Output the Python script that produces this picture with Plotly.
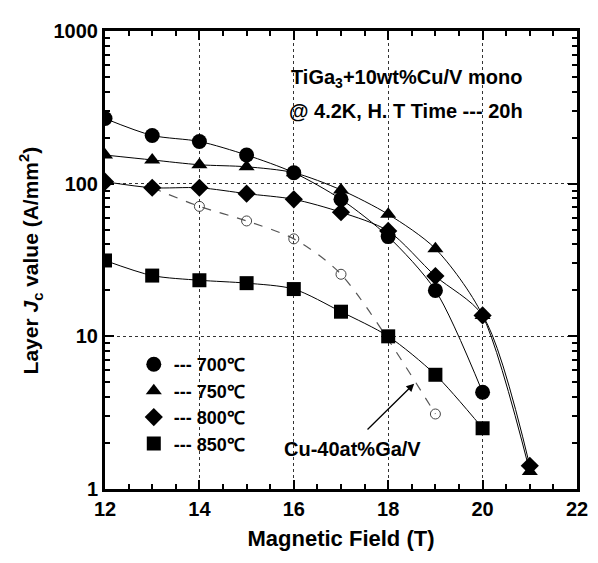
import plotly.graph_objects as go

field = [12, 13, 14, 15, 16, 17, 18, 19, 20]
field_ext = [12, 13, 14, 15, 16, 17, 18, 19, 20, 21]
jc_700 = [267, 207, 189, 154, 118, 79, 45, 20, 4.3]
jc_750 = [154, 143, 133, 129, 118, 91, 63, 37.5, 13.7, 1.3]
jc_800 = [103, 94, 94, 86, 79, 65, 49, 24.8, 13.7, 1.42]
jc_850 = [31.4, 25, 23.3, 22.3, 20.4, 14.5, 10, 5.6, 2.5]
cu_field = [13, 14, 15, 16, 17, 19]
cu_jc = [94, 71, 57, 43.5, 25.5, 3.1]

series = [
    ("700℃", field, jc_700, "circle", 15),
    ("750℃", field_ext, jc_750, "triangle-up", 14),
    ("800℃", field_ext, jc_800, "diamond", 14),
    ("850℃", field, jc_850, "square", 14),
]

FONT = "Liberation Sans, Arial, sans-serif"
fig = go.Figure()
for name, xs, ys, sym, sz in series:
    fig.add_trace(go.Scatter(x=xs, y=ys, mode="lines", line=dict(color="black", width=1, shape="spline", smoothing=0.8),
                             showlegend=False, hoverinfo="skip"))
fig.add_trace(go.Scatter(x=cu_field, y=cu_jc, mode="lines", line=dict(color="#555", width=1.2, dash="dash", shape="spline", smoothing=0.8),
                         showlegend=False))
fig.add_trace(go.Scatter(x=cu_field[1:], y=cu_jc[1:], mode="markers",
                         marker=dict(symbol="circle-open", size=10, color="#444", line=dict(width=1, color="#444")),
                         showlegend=False))
for name, xs, ys, sym, sz in series:
    fig.add_trace(go.Scatter(x=xs, y=ys, mode="markers", name="<b>--- " + name + "</b>",
                             marker=dict(symbol=sym, size=sz, color="black")))

fig.add_annotation(x=18.38, y=2.69, xref="x", yref="y", text="<b>TiGa<sub>3</sub>+10wt%Cu/V mono</b>",
                   showarrow=False, font=dict(family=FONT, size=20, color="black"))
fig.add_annotation(x=18.38, y=2.477, xref="x", yref="y", text="<b>@ 4.2K, H. T Time --- 20h</b>",
                   showarrow=False, font=dict(family=FONT, size=20, color="black"))
fig.add_annotation(x=18.55, y=0.69, ax=17.53, ay=0.38, xref="x", yref="y", axref="x", ayref="y",
                   text="", showarrow=True, arrowhead=2, arrowsize=1.2, arrowwidth=1.3, arrowcolor="black")
fig.add_annotation(x=17.24, y=0.265, xref="x", yref="y", text="<b>Cu-40at%Ga/V</b>",
                   showarrow=False, font=dict(family=FONT, size=20, color="black"))
fig.add_annotation(x=-0.158, y=0.5, xref="paper", yref="paper", xanchor="center", yanchor="middle",
                   text="<b>Layer <i>J</i><sub>c</sub> value (A/mm<sup>2</sup>)</b>", textangle=-90,
                   showarrow=False, font=dict(family=FONT, size=21, color="black"))

fig.update_layout(
    width=598, height=563,
    margin=dict(l=97, r=29, t=16, b=82),
    plot_bgcolor="white", paper_bgcolor="white",
    font=dict(family=FONT, color="black"),
    legend=dict(x=0.061, y=0.312, xanchor="left", yanchor="top", bgcolor="rgba(0,0,0,0)",
                font=dict(family=FONT, size=18, color="black"),
                itemwidth=30, tracegroupgap=0),
    xaxis=dict(range=[12, 22], dtick=2, tick0=12, showline=True, linewidth=3, linecolor="black", mirror="allticks",
               ticks="inside", ticklen=9, tickwidth=2, tickcolor="black",
               showgrid=True, gridcolor="#333", griddash="dot", gridwidth=1, zeroline=False,
               tickfont=dict(family=FONT, size=20, color="black", weight="bold"),
               minor=dict(dtick=0.5, ticks="inside", ticklen=5, tickwidth=2, tickcolor="black", showgrid=False),
               title=dict(text="<b>Magnetic Field (T)</b>", font=dict(family=FONT, size=22, color="black"), standoff=12)),
    yaxis=dict(type="log", range=[0, 3], dtick=1, showline=True, linewidth=3, linecolor="black", mirror="allticks",
               ticks="inside", ticklen=9, tickwidth=2, tickcolor="black",
               showgrid=True, gridcolor="#333", griddash="dot", gridwidth=1, zeroline=False,
               tickfont=dict(family=FONT, size=20, color="black", weight="bold"),
               minor=dict(ticks="inside", ticklen=5, tickwidth=2, tickcolor="black", showgrid=False)),
)
fig.write_html("out.html")
